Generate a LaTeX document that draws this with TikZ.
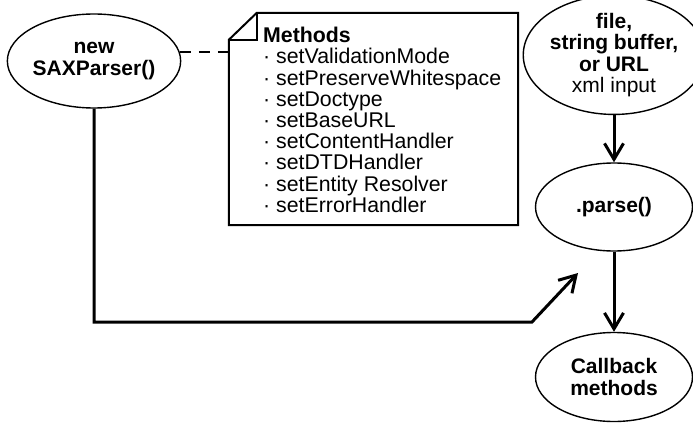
\documentclass[tikz,border=0pt]{standalone}
\usepackage{fontspec}
\setmainfont{Liberation Sans}
\usetikzlibrary{shapes.geometric,arrows.meta}
\begin{document}
\begin{tikzpicture}[x=1pt,y=-1pt,
  oval/.style={ellipse,draw,line width=1.4pt,inner sep=0pt,align=center,
    font=\bfseries\fontsize{21}{21.5}\selectfont},
  conn/.style={line width=3pt},
  arr/.style={conn,-{Straight Barb[length=16pt,width=19pt]}},
  notebox/.style={line width=2pt},
  notetext/.style={anchor=north west,align=left,inner sep=0pt,
    font=\fontsize{21.3}{21.2}\selectfont}
]
\useasboundingbox (0,0) rectangle (693,441);
% ellipses
\node[oval,minimum width=166pt,minimum height=94pt] (sax) at (94,61) {new\\SAXParser()};
\node[oval,minimum width=157pt,minimum height=106pt] (file) at (614,55)
  {file,\\string buffer,\\or URL\\\mdseries xml input};
\node[oval,minimum width=157pt,minimum height=88pt] (parse) at (614,207) {.parse()};
\node[oval,minimum width=157pt,minimum height=89pt] (cb) at (614,377) {Callback\\methods};
% note
\node[minimum width=289pt,minimum height=212pt,inner sep=0pt] (note) at (373.5,119) {};
\draw[notebox] ([yshift=-27pt]note.north west) -- ([xshift=28pt]note.north west)
  -- (note.north east) -- (note.south east) -- (note.south west) -- cycle;
\draw[notebox] ([xshift=28pt]note.north west) -- ([xshift=28pt,yshift=-27pt]note.north west)
  -- ([yshift=-27pt]note.north west);
\node[notetext] (mtext) at (263,27) {\textbf{Methods}\\
· setValidationMode\\
· setPreserveWhitespace\\
· setDoctype\\
· setBaseURL\\
· setContentHandler\\
· setDTDHandler\\
· setEntity Resolver\\
· setErrorHandler};
% connectors
\draw[conn,dash pattern=on 11pt off 8pt,line width=2.5pt] (sax.6) -- (sax.6 -| note.west);
\draw[arr] (file.south) -- (parse.north);
\draw[arr] (parse.south) -- (cb.north);
\coordinate (bend) at (532,322);
\coordinate (tipend) at (578,273);
\draw[arr] (sax.south) |- (bend) -- (tipend);
\end{tikzpicture}
\end{document}
